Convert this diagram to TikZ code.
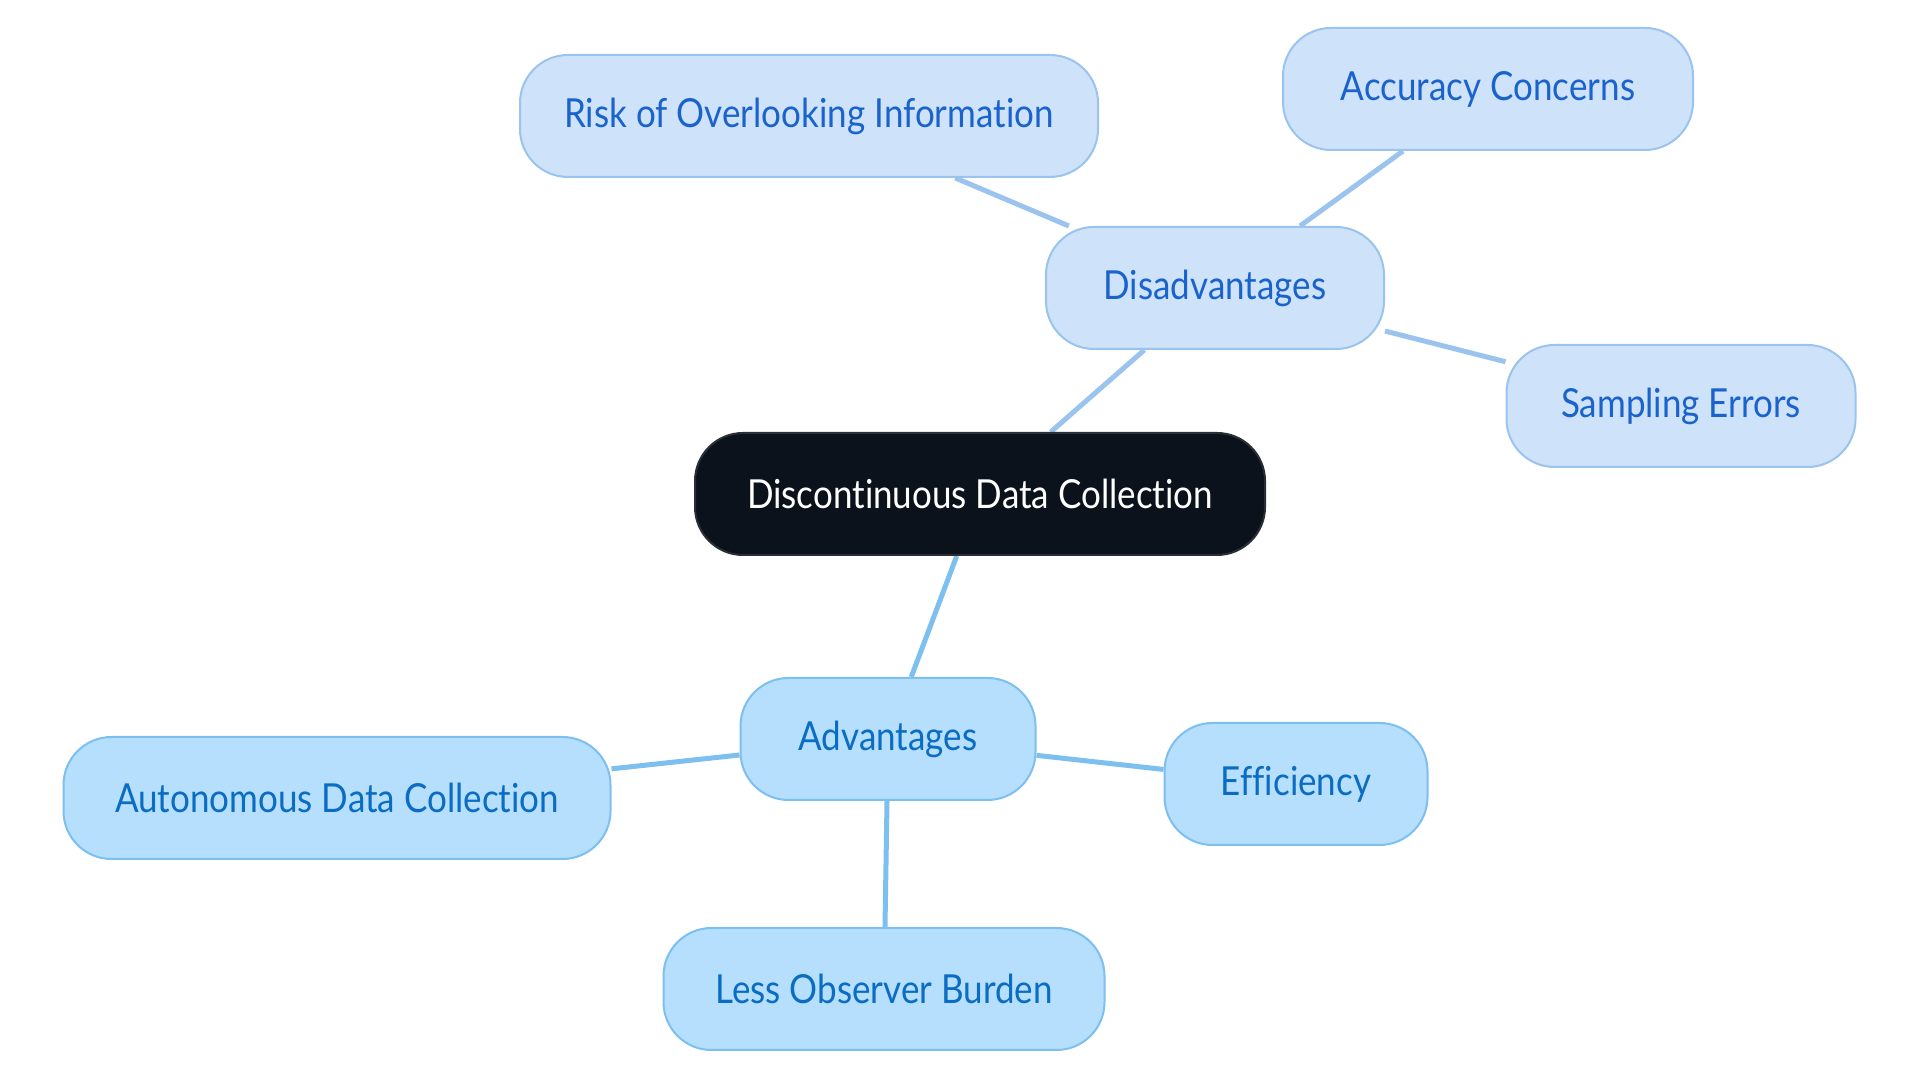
\documentclass[tikz,border=0pt]{standalone}
\usepackage{fontspec}
\setmainfont[FakeStretch=0.875,RawFeature=-liga]{Lato}
\usetikzlibrary{backgrounds}
\definecolor{mainfill}{HTML}{0C121C}
\definecolor{mainborder}{HTML}{2A2F36}
\definecolor{disfill}{HTML}{CEE3FA}
\definecolor{disborder}{HTML}{9AC3EE}
\definecolor{distext}{HTML}{1A62CC}
\definecolor{advfill}{HTML}{B5DFFD}
\definecolor{advborder}{HTML}{7DBFEF}
\definecolor{advtext}{HTML}{0A6CC2}
\tikzset{
  pill/.style={rounded corners=48pt, line width=2pt, inner sep=0pt, minimum height=122pt,
    font=\fontsize{40}{48}\selectfont},
  mainpill/.style={pill, fill=mainfill, draw=mainborder, text=white},
  dispill/.style={pill, fill=disfill, draw=disborder, text=distext},
  advpill/.style={pill, fill=advfill, draw=advborder, text=advtext},
  disedge/.style={draw=disborder, line width=5pt},
  advedge/.style={draw=advborder, line width=5pt}
}
\begin{document}
\begin{tikzpicture}[x=1pt,y=1pt]
\useasboundingbox (0,0) rectangle (1920,1083);
\node[mainpill, minimum width=570pt] (main) at (980,589) {Discontinuous Data Collection};
\node[dispill, minimum width=338pt] (dis) at (1215,795) {Disadvantages};
\node[dispill, minimum width=578pt] (risk) at (809,967) {Risk of Overlooking Information};
\node[dispill, minimum width=410pt] (acc) at (1488,994) {Accuracy Concerns};
\node[dispill, minimum width=349pt] (samp) at (1681,677) {Sampling Errors};
\node[advpill, minimum width=295pt] (adv) at (888,344) {Advantages};
\node[advpill, minimum width=547pt] (auto) at (337,285) {Autonomous Data Collection};
\node[advpill, minimum width=263pt] (eff) at (1296,299) {Efficiency};
\node[advpill, minimum width=441pt] (less) at (884,94) {Less Observer Burden};
\begin{scope}[on background layer]
\draw[disedge] (main) -- (dis);
\draw[disedge] (dis) -- (risk);
\draw[disedge] (dis) -- (acc);
\draw[disedge] (dis) -- (samp);
\draw[advedge] (main) -- (adv);
\draw[advedge] (adv) -- (auto);
\draw[advedge] (adv) -- (eff);
\draw[advedge] (adv) -- (less);
\end{scope}
\end{tikzpicture}
\end{document}
